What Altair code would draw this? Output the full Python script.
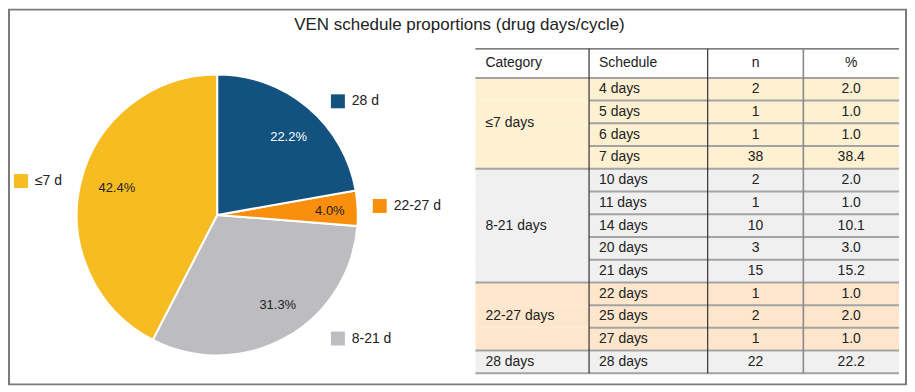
import math
import altair as alt
import pandas as pd

# ---------------- data ----------------
TITLE = "VEN schedule proportions (drug days/cycle)"

pie_labels = ["≤7 d", "8-21 d", "22-27 d", "28 d"]
pie_counts = [42, 31, 4, 22]
pie_colors = ["#F7BC21", "#BDBCC1", "#F98F0C", "#13517F"]

headers = ["Category", "Schedule", "n", "%"]
categories = ["≤7 days", "8-21 days", "22-27 days", "28 days"]
category_fills = ["#FEF1D2", "#F0F0F0", "#FDE6CB", "#F0F0F0"]
schedules = ["4 days", "5 days", "6 days", "7 days", "10 days", "11 days", "14 days",
             "20 days", "21 days", "22 days", "25 days", "27 days", "28 days"]
row_category = (["≤7 days"] * 4 + ["8-21 days"] * 5 + ["22-27 days"] * 3 + ["28 days"])
n_values = [2, 1, 1, 38, 2, 1, 10, 3, 15, 1, 2, 1, 22]
pct_values = [2.0, 1.0, 1.0, 38.4, 2.0, 1.0, 10.1, 3.0, 15.2, 1.0, 2.0, 1.0, 22.2]

# ---------------- layout ----------------
W, H = 900, 376
OFF = 9                      # view origin on the page
CX, CY, R = 218 - OFF, 215 - OFF, 141
FONT = "Liberation Sans"
TXT = "#222222"

# percentage label placement: nudge (deg) from slice middle, radius (px)
PCT_NUDGE = [1.6, -4.9, 0.7, 2.4]
PCT_RAD = [104.5, 108.5, 113, 106]

# legend square centres (page px)
LEG_X = [21, 339, 381, 339]
LEG_Y = [181, 339, 206, 101]

COL_EDGES = [0, 114, 233, 329, 425]      # table column edges (table units = px)
TABLE_LEFT, TABLE_TOP, TABLE_BOTTOM = 477 - OFF, 48.3 - OFF, 373.9 - OFF
HDR = 1.28                               # header height in row units
NROWS = len(schedules)

X_SCALE = alt.Scale(domain=[COL_EDGES[0], COL_EDGES[-1]],
                    range=[TABLE_LEFT, TABLE_LEFT + COL_EDGES[-1]], nice=False, zero=False)
Y_SCALE = alt.Scale(domain=[-HDR, NROWS], range=[TABLE_TOP, TABLE_BOTTOM], nice=False, zero=False)

color_scale = alt.Scale(domain=pie_labels, range=pie_colors)

# ---------------- title ----------------
title = alt.Chart(pd.DataFrame({"t": [TITLE]})).mark_text(
    font=FONT, fontSize=17, color=TXT, align="center", baseline="alphabetic"
).encode(x=alt.value(461 - OFF), y=alt.value(29.5 - OFF), text="t:N")

# ---------------- pie ----------------
pie_df = pd.DataFrame({"label": pie_labels, "count": pie_counts, "order": [3, 2, 1, 0]})
total = pie_df["count"].sum()
pie_df["pct_text"] = (100 * pie_df["count"] / total).map("{:.1f}%".format)
# slice middle angle (clockwise from 12 o'clock, drawing order = 'order')
srt = pie_df.sort_values("order")
cum = srt["count"].cumsum() - srt["count"] / 2
pie_df["mid"] = (cum / total * 2 * math.pi).reindex(pie_df.index)
pie_df["ang"] = pie_df["mid"] + [math.radians(v) for v in PCT_NUDGE]
pie_df["rad"] = PCT_RAD

arcs = alt.Chart(pie_df).mark_arc(outerRadius=R, stroke="white", strokeWidth=2).encode(
    theta=alt.Theta("count:Q", stack=True),
    order=alt.Order("order:Q"),
    x=alt.value(CX), y=alt.value(CY),
    color=alt.Color("label:N", scale=color_scale, legend=None),
)
pct = alt.Chart(pie_df).mark_text(font=FONT, fontSize=13, baseline="middle", align="center").encode(
    theta=alt.Theta("ang:Q", scale=None),
    radius=alt.Radius("rad:Q", scale=None),
    x=alt.value(CX), y=alt.value(CY),
    text="pct_text:N",
    color=alt.condition(alt.datum.label == "28 d", alt.value("white"), alt.value(TXT)),
)

# ---------------- pie labels ----------------
leg_df = pd.DataFrame({"label": pie_labels,
                       "sx": [v - OFF for v in LEG_X],
                       "sy": [v - OFF for v in LEG_Y]})
squares = alt.Chart(leg_df).mark_square(size=196, opacity=1, strokeWidth=0).encode(
    x=alt.X("sx:Q", scale=None, axis=None),
    y=alt.Y("sy:Q", scale=None, axis=None),
    color=alt.Color("label:N", scale=color_scale, legend=None),
)
leg_text = alt.Chart(leg_df).mark_text(
    font=FONT, fontSize=14, color=TXT, align="left", baseline="middle", dx=14
).encode(
    x=alt.X("sx:Q", scale=None, axis=None),
    y=alt.Y("sy:Q", scale=None, axis=None),
    text="label:N",
)

# ---------------- table ----------------
fill_of = dict(zip(categories, category_fills))
rows = pd.DataFrame({
    "schedule": schedules, "category": row_category,
    "n": n_values, "pct": pct_values,
})
rows["y0"] = range(NROWS)
rows["y1"] = rows["y0"] + 1
rows["ym"] = rows["y0"] + 0.5
rows["x0"] = COL_EDGES[0]
rows["x1"] = COL_EDGES[-1]
rows["fill"] = rows["category"].map(fill_of)
rows["pct_s"] = rows["pct"].map("{:.1f}".format)
rows["n_s"] = rows["n"].astype(str)

XA = lambda f: alt.X(f, scale=X_SCALE, axis=None)
YA = lambda f: alt.Y(f, scale=Y_SCALE, axis=None)

row_rects = alt.Chart(rows).mark_rect(strokeWidth=0).encode(
    x=XA("x0:Q"), x2="x1:Q", y=YA("y0:Q"), y2="y1:Q",
    fill=alt.Fill("fill:N", scale=None),
)

# horizontal separators
seps = []
for i in range(1, NROWS):
    full = row_category[i] != row_category[i - 1]
    seps.append({"y": i, "x0": COL_EDGES[0] if full else COL_EDGES[1], "x1": COL_EDGES[-1]})
seps.append({"y": 0, "x0": COL_EDGES[0], "x1": COL_EDGES[-1]})
seps.append({"y": NROWS, "x0": COL_EDGES[0], "x1": COL_EDGES[-1]})
sep_df = pd.DataFrame(seps)
hlines = alt.Chart(sep_df).mark_rule(color="#A3A3A3", strokeWidth=2).encode(
    x=XA("x0:Q"), x2="x1:Q", y=YA("y:Q"))

top_line = alt.Chart(pd.DataFrame({"y": [-HDR], "x0": [COL_EDGES[0]], "x1": [COL_EDGES[-1]]})).mark_rule(
    color="#555555", strokeWidth=1.2).encode(x=XA("x0:Q"), x2="x1:Q", y=YA("y:Q"))

vl_df = pd.DataFrame({"x": COL_EDGES[1:4], "y0": [-HDR] * 3, "y1": [NROWS] * 3,
                      "c": ["#333333", "#333333", "#8A8A8A"], "w": [1.2, 1.2, 1.6]})
vlines = alt.Chart(vl_df).mark_rule().encode(
    x=XA("x:Q"), y=YA("y0:Q"), y2="y1:Q",
    stroke=alt.Stroke("c:N", scale=None),
    strokeWidth=alt.StrokeWidth("w:Q", scale=None),
)

hdr_df = pd.DataFrame({
    "t": headers,
    "x": [COL_EDGES[0], COL_EDGES[1], (COL_EDGES[2] + COL_EDGES[3]) / 2, (COL_EDGES[3] + COL_EDGES[4]) / 2],
    "y": [-HDR / 2] * 4,
    "left": [True, True, False, False],
})
tstyle = dict(font=FONT, fontSize=14, color=TXT, baseline="middle")
hdr_left = alt.Chart(hdr_df[hdr_df["left"]]).mark_text(align="left", dx=10, **tstyle).encode(
    x=XA("x:Q"), y=YA("y:Q"), text="t:N")
hdr_center = alt.Chart(hdr_df[~hdr_df["left"]]).mark_text(align="center", **tstyle).encode(
    x=XA("x:Q"), y=YA("y:Q"), text="t:N")

grp = rows.groupby("category", sort=False).agg(y0=("y0", "min"), y1=("y1", "max")).reset_index()
grp["ym"] = (grp["y0"] + grp["y1"]) / 2
grp["x"] = COL_EDGES[0]
cat_text = alt.Chart(grp).mark_text(align="left", dx=10, **tstyle).encode(
    x=XA("x:Q"), y=YA("ym:Q"), text="category:N")

rows["xs"] = COL_EDGES[1]
rows["xn"] = (COL_EDGES[2] + COL_EDGES[3]) / 2
rows["xp"] = (COL_EDGES[3] + COL_EDGES[4]) / 2
sched_text = alt.Chart(rows).mark_text(align="left", dx=10, **tstyle).encode(
    x=XA("xs:Q"), y=YA("ym:Q"), text="schedule:N")
n_text = alt.Chart(rows).mark_text(align="center", **tstyle).encode(
    x=XA("xn:Q"), y=YA("ym:Q"), text="n_s:N")
p_text = alt.Chart(rows).mark_text(align="center", **tstyle).encode(
    x=XA("xp:Q"), y=YA("ym:Q"), text="pct_s:N")

table = alt.layer(row_rects, hlines, top_line, vlines, hdr_left, hdr_center,
                  cat_text, sched_text, n_text, p_text)

chart = alt.layer(title, arcs, pct, squares, leg_text, table).resolve_scale(
    x="independent", y="independent", theta="independent", radius="independent"
).properties(
    width=W, height=H, padding=1, background="white"
).configure_view(stroke="#7B7B7B", strokeWidth=2)

chart.save("out.html", embed_options={"renderer": "svg", "actions": False})
